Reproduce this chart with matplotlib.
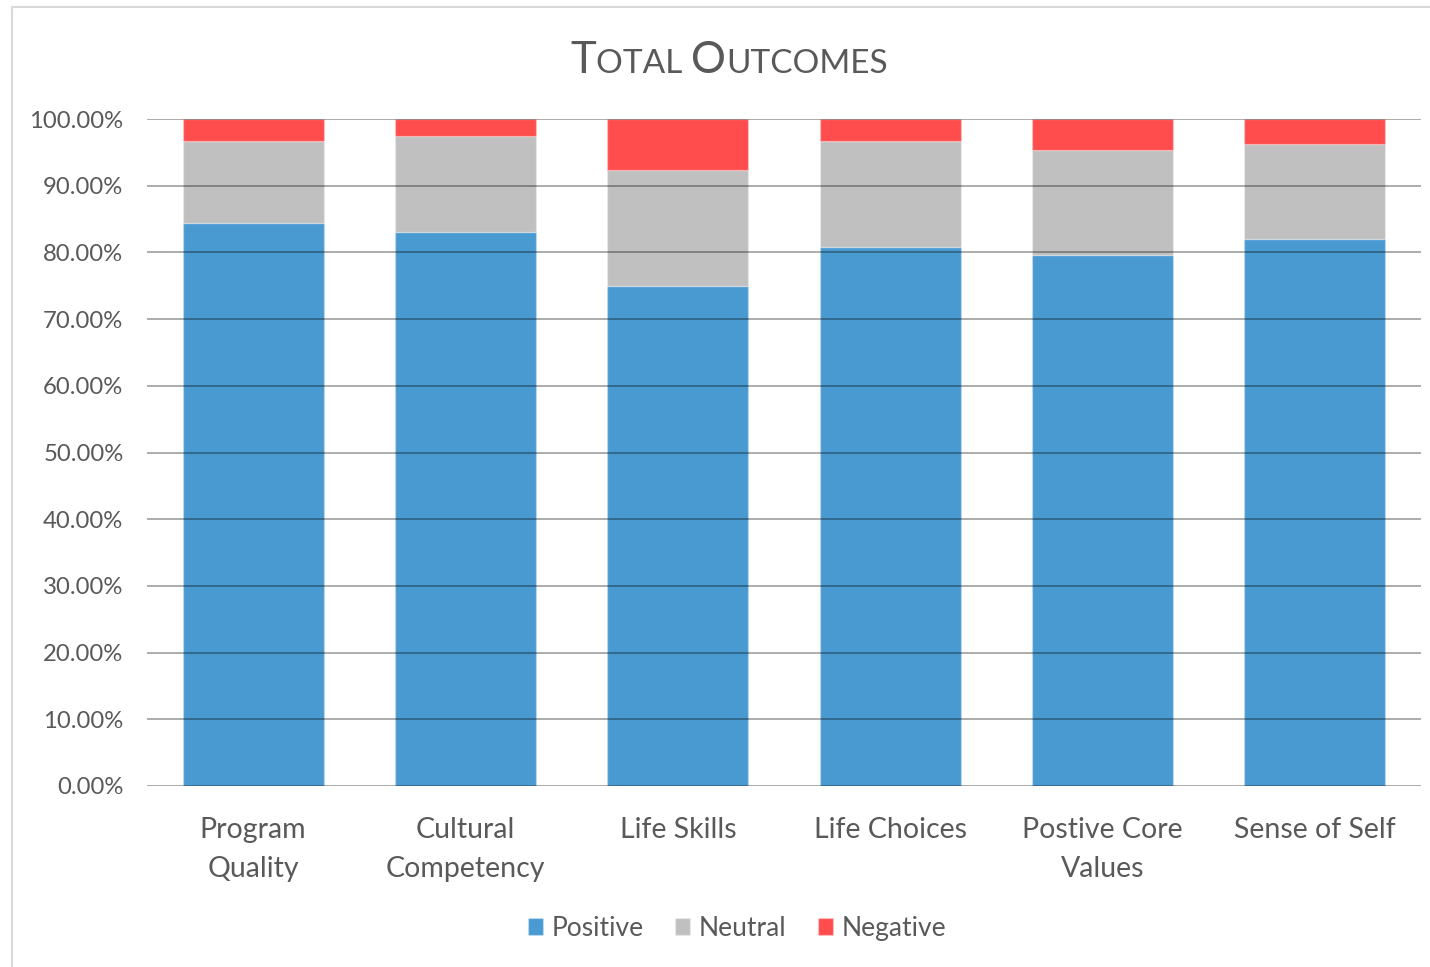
import numpy as np
import matplotlib.pyplot as plt
from matplotlib.offsetbox import TextArea, HPacker, AnchoredOffsetbox
from matplotlib.patches import Rectangle
from matplotlib.ticker import FuncFormatter

plt.rcParams['font.family'] = ['Lato', 'DejaVu Sans']

# dane (procenty)
categories = ["Program\nQuality", "Cultural\nCompetency", "Life Skills",
              "Life Choices", "Postive Core\nValues", "Sense of Self"]
positive = [84.4, 83.05, 74.95, 80.75, 79.6, 82.05]
neutral = [12.25, 14.4, 17.45, 15.9, 15.7, 14.25]
negative = [3.35, 2.55, 7.6, 3.35, 4.7, 3.7]

c_text = '#595959'
colors = ['#4A9AD2', '#C0C0C0', '#FF4C4C']

fig = plt.figure(figsize=(14.3, 9.67), dpi=100)
ax = fig.add_axes([0.1028, 0.1872, 0.8909, 0.6897])

x = np.arange(len(categories))
w = 0.665
bottom2 = np.array(positive) + np.array(neutral)
ax.bar(x, positive, w, color=colors[0], label='Positive', edgecolor='#FFFFFF40', linewidth=1)
ax.bar(x, neutral, w, bottom=positive, color=colors[1], label='Neutral', edgecolor='#FFFFFF40', linewidth=1)
ax.bar(x, negative, w, bottom=bottom2, color=colors[2], label='Negative', edgecolor='#FFFFFF40', linewidth=1)

ax.set_xlim(-0.5, len(categories) - 0.5)
ax.set_ylim(0, 100)
ax.set_yticks(np.arange(0, 101, 10))
ax.yaxis.set_major_formatter(FuncFormatter(lambda v, p: f"{v:.2f}%"))
ax.set_axisbelow(False)
ax.grid(axis='y', color='black', alpha=0.35, linewidth=1.3, zorder=5)
for s in ax.spines.values():
    s.set_visible(False)
ax.tick_params(axis='both', length=0, colors=c_text)
ax.tick_params(axis='y', labelsize=17.2, pad=17)
ax.set_xticks(x)
ax.set_xticklabels(categories, fontsize=20.5, linespacing=1.65)
ax.tick_params(axis='x', pad=22)

# tytul w kapitalikach
parts = [("T", 31.5), ("OTAL ", 24), ("O", 31.5), ("UTCOMES", 24)]
boxes = [TextArea(t, textprops=dict(fontsize=s, color=c_text)) for t, s in parts]
pack = HPacker(children=boxes, align="baseline", pad=0, sep=0)
anch = AnchoredOffsetbox(loc='center', child=pack, frameon=False,
                         bbox_to_anchor=(0.51, 0.937), bbox_transform=fig.transFigure)
fig.add_artist(anch)

leg = fig.legend(loc='center', bbox_to_anchor=(0.5155, 0.04), ncol=3, frameon=False,
                 fontsize=19, handlelength=0.57, handleheight=0.57, handletextpad=0.34,
                 columnspacing=1.17)
for t in leg.get_texts():
    t.set_color(c_text)

# ramka wykresu
fig.add_artist(Rectangle((12 / 1430, -0.01), 1.0, 1 - 7 / 967 + 0.01,
                         transform=fig.transFigure, fill=False, edgecolor='#D9D9D9', linewidth=1.5))

fig.savefig('out.png', dpi=100)
